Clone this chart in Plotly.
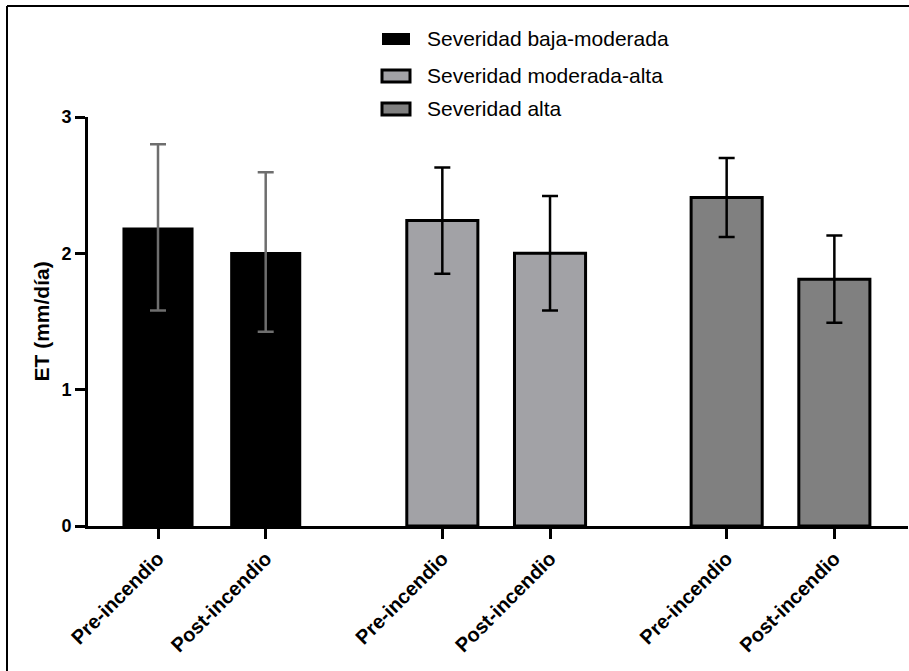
import plotly.graph_objects as go

# ---- data ----
groups = ["Severidad baja-moderada", "Severidad moderada-alta", "Severidad alta"]
periods = ["Pre-incendio", "Post-incendio"]
et_mean = {
    "Severidad baja-moderada": [2.19, 2.01],
    "Severidad moderada-alta": [2.24, 2.00],
    "Severidad alta": [2.41, 1.81],
}
et_sd = {
    "Severidad baja-moderada": [0.61, 0.585],
    "Severidad moderada-alta": [0.39, 0.42],
    "Severidad alta": [0.29, 0.32],
}
y_ticks = [0, 1, 2, 3]

# ---- style ----
fill_colors = ["#000000", "#a2a2a6", "#808080"]
err_colors = ["#6e6e6e", "#000000", "#000000"]
line_w = [0, 3, 3]
GROUP_STEP = 2.64
BAR_W = 0.66
FONT = "Liberation Sans, Arial"

W, H = 909, 671
L, R, T, B = 88, 1, 117, 145
PW = W - L - R
PH = H - T - B


def px_x(px):
    return (px - L) / PW


def px_y(py):
    return (H - B - py) / PH


fig = go.Figure()
tickvals, ticktext = [], []
for gi, g in enumerate(groups):
    xs = [gi * GROUP_STEP + k for k in range(len(periods))]
    tickvals += xs
    ticktext += periods
    fig.add_trace(go.Bar(
        x=xs, y=et_mean[g], name=g, width=BAR_W,
        marker=dict(color=fill_colors[gi],
                    line=dict(color="#000000", width=line_w[gi])),
        error_y=dict(type="data", array=et_sd[g], visible=True,
                     color=err_colors[gi], thickness=2.5, width=8),
        showlegend=False,
    ))

shapes = []
annotations = []
# custom legend
leg_rows = [39, 76, 109]
for gi, g in enumerate(groups):
    cy = leg_rows[gi]
    shapes.append(dict(
        type="rect", xref="paper", yref="paper",
        x0=px_x(382), x1=px_x(410), y0=px_y(cy + 6), y1=px_y(cy - 6),
        fillcolor=fill_colors[gi],
        line=dict(color="#000000", width=3 if gi > 0 else 0),
    ))
    annotations.append(dict(
        text=g, xref="paper", yref="paper", x=px_x(425), y=px_y(cy),
        xanchor="left", yanchor="middle", showarrow=False,
        font=dict(family=FONT, size=21, color="#000000"),
    ))

# y axis title
annotations.append(dict(
    text="ET (mm/día)", xref="paper", yref="paper", x=px_x(41), y=0.5,
    xanchor="center", yanchor="middle", textangle=-90, showarrow=False,
    font=dict(family=FONT, size=21, color="#000000", weight="bold"),
))

# outer frame (left, top)
shapes.append(dict(type="line", xref="paper", yref="paper",
                   x0=px_x(7), x1=px_x(7), y0=px_y(H + 5), y1=px_y(6),
                   line=dict(color="#000000", width=2)))
shapes.append(dict(type="line", xref="paper", yref="paper",
                   x0=px_x(7), x1=px_x(W + 5), y0=px_y(6), y1=px_y(6),
                   line=dict(color="#000000", width=2)))

x_lo = tickvals[0] - (158 - L) / 107.7
x_hi = x_lo + PW / 107.7

fig.update_layout(
    width=W, height=H,
    margin=dict(l=L, r=R, t=T, b=B),
    plot_bgcolor="#ffffff", paper_bgcolor="#ffffff",
    barmode="overlay",
    shapes=shapes, annotations=annotations,
    showlegend=False,
    xaxis=dict(
        range=[x_lo, x_hi], tickmode="array", tickvals=tickvals, ticktext=ticktext,
        tickangle=-45, showgrid=False, zeroline=False,
        showline=True, linecolor="#000000", linewidth=3,
        ticks="outside", ticklen=10, tickwidth=3, tickcolor="#000000",
        tickfont=dict(family=FONT, size=20, color="#000000", weight="bold"),
    ),
    yaxis=dict(
        range=[0, 3], tickmode="array", tickvals=y_ticks,
        showgrid=False, zeroline=False,
        showline=True, linecolor="#000000", linewidth=3,
        ticks="outside", ticklen=10, tickwidth=3, tickcolor="#000000",
        tickfont=dict(family=FONT, size=18, color="#000000", weight="bold"),
    ),
)

fig.write_html("out.html", config={"displayModeBar": False},
               post_script="document.body.style.margin='0px';document.body.style.overflow='hidden';")
